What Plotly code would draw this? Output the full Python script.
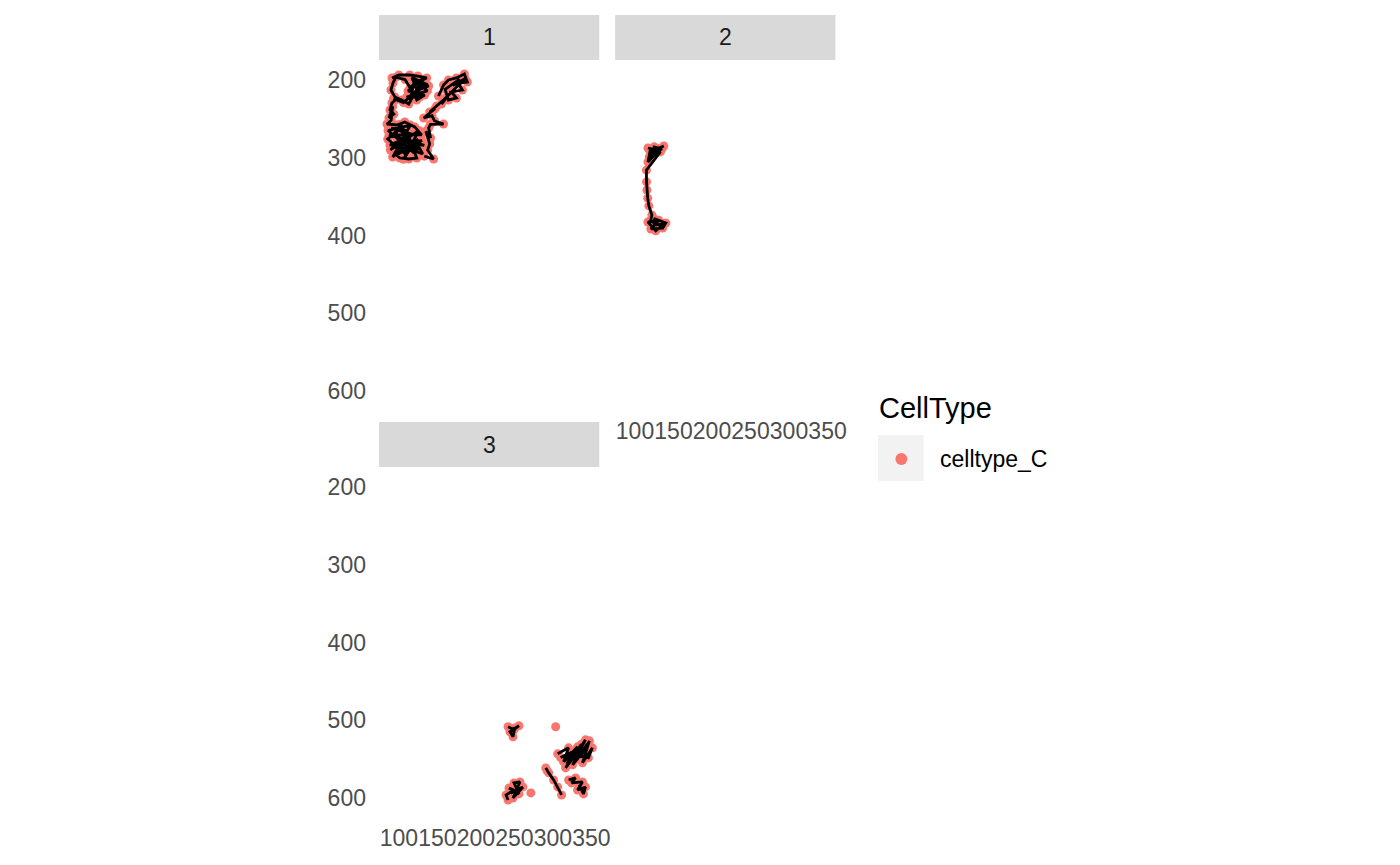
import plotly.graph_objects as go

W, H = 1400, 865

# ---------------- data ----------------
panel_labels = ["1", "2", "3"]
legend_title = "CellType"
cell_type = "celltype_C"
x_ticks = [100, 150, 200, 250, 300, 350]
y_ticks = [200, 300, 400, 500, 600]
x_range = [74.2, 360.2]
y_range = [620.6, 174.3]

panel1_x = [91.0, 100.0, 114.2, 124.5, 136.1, 118.0, 128.0, 138.7, 125.0, 112.0,
            133.5, 123.2, 115.0, 130.0, 112.9, 103.9, 94.8, 89.7, 92.3, 96.0,
            108.0, 120.0, 135.0, 117.0, 127.0, 110.0, 137.0, 121.0, 114.0, 131.0,
            106.0, 93.0,
            95.0, 91.0, 88.4, 93.5, 87.1, 92.0, 90.0, 84.5, 97.4, 107.7,
            120.6, 129.6, 102.6, 87.1, 112.9, 133.0, 97.4, 88.4, 105.2, 123.2,
            131.0, 116.8, 93.6, 101.3, 112.9, 123.2, 110.0, 90.0, 118.0, 95.0,
            127.0, 100.0, 85.5, 108.0, 125.0, 92.0, 115.0, 86.0, 120.0, 104.0,
            130.0, 98.0, 112.0, 89.0, 126.0, 106.0, 118.0, 95.0, 102.0, 124.0,
            151.5, 158.0, 164.4, 174.7, 185.0, 188.9, 177.0, 182.5, 168.3, 174.7,
            164.4, 160.0, 179.0, 170.0, 186.0, 165.0, 155.4, 162.0, 149.0, 140.0,
            147.0, 132.2, 143.0, 146.4, 158.0, 141.0, 138.7, 141.2, 135.0, 140.0,
            137.4, 145.1, 133.0]
panel1_y = [197.4, 193.6, 193.6, 194.9, 197.4, 206.0, 212.0, 207.7, 203.0, 214.0,
            219.3, 225.7, 209.0, 199.0, 230.9, 225.7, 221.9, 212.9, 203.9, 196.5,
            199.5, 219.0, 205.0, 197.0, 222.0, 222.0, 214.0, 200.0, 226.0, 207.0,
            229.0, 224.0,
            226.0, 229.6, 238.6, 244.0, 248.9, 234.0, 252.0, 256.6, 257.9, 254.0,
            260.4, 270.7, 270.7, 270.7, 277.2, 284.0, 279.7, 283.6, 287.5, 281.0,
            295.2, 290.0, 293.9, 300.3, 301.6, 300.3, 265.0, 262.0, 270.0, 288.0,
            289.0, 263.0, 276.0, 295.0, 276.0, 299.0, 258.0, 265.0, 294.0, 280.0,
            278.0, 296.0, 268.0, 290.0, 265.0, 302.0, 284.0, 272.0, 257.0, 293.0,
            220.6, 206.4, 200.0, 197.4, 192.3, 202.6, 204.0, 212.9, 215.4, 223.2,
            225.7, 212.0, 199.0, 207.0, 198.0, 219.0, 230.9, 222.0, 233.4, 241.2,
            237.0, 248.9, 246.0, 252.7, 256.6, 257.0, 261.7, 274.6, 266.0, 282.0,
            290.0, 301.6, 298.0]
panel1_track = ["a"] * 32 + ["b"] * 50 + ["c"] * 33

panel2_x = [116.8, 127.0, 137.4, 130.0, 121.0, 125.0, 135.0, 118.5, 128.5, 116.8,
            119.5, 133.0, 114.8, 115.0, 115.5, 116.5, 118.0, 121.9, 120.6, 127.0,
            137.4, 127.0, 116.8, 131.0, 120.6, 136.0, 140.0, 124.0]
panel2_y = [287.5, 290.0, 284.9, 288.0, 296.0, 286.0, 288.5, 299.0, 293.0, 305.5,
            292.0, 292.5, 316.0, 331.0, 341.5, 352.0, 362.0, 373.6, 380.0, 386.5,
            385.0, 394.0, 382.6, 380.5, 391.6, 390.5, 384.0, 378.0]
panel2_track = ["d"] * 28

panel3_x = [241.8, 249.5, 255.9, 244.3, 248.2, 250.5, 246.0,
            303.6,
            306.2, 320.4, 313.9, 332.0, 316.5, 329.4, 342.3, 325.5, 339.7, 347.4,
            338.4, 351.3, 346.1, 335.0, 322.0, 344.0, 310.0, 327.0, 318.0, 337.0,
            332.0, 345.0, 341.0, 324.0,
            290.7, 292.5, 294.6, 301.0, 306.2, 311.3,
            320.4, 329.4, 324.2, 338.4, 332.0, 342.3, 339.7, 334.0,
            241.8, 239.2, 249.5, 243.0, 255.9, 249.5, 257.2, 248.2, 261.1, 245.0,
            271.4]
panel3_y = [508.4, 512.3, 507.1, 514.8, 521.3, 510.0, 511.0,
            508.4,
            543.2, 535.5, 553.5, 534.2, 561.3, 544.5, 525.2, 557.4, 540.6, 526.5,
            554.8, 535.5, 548.4, 545.0, 550.0, 535.0, 548.0, 540.0, 556.0, 531.0,
            550.0, 530.0, 547.0, 546.0,
            561.3, 565.0, 567.7, 576.8, 585.8, 596.1,
            576.8, 574.2, 580.6, 579.4, 589.7, 585.8, 594.8, 583.0,
            602.6, 596.1, 589.7, 587.1, 594.8, 580.6, 579.4, 600.0, 585.8, 594.0,
            593.5]
panel3_track = (["e"] * 7 + ["f"] + ["g"] * 24 + ["h"] * 6 + ["i"] * 8
                + ["j"] * 10 + ["k"])

# ---------------- style ----------------
POINT = "#F8766D"
FONT = "Liberation Sans, Arial, Helvetica, sans-serif"
TICK_FONT = dict(family=FONT, size=23, color="#4D4D4D")


def px_x(p):
    return p / W


def px_y(p):
    return 1 - p / H


fig = go.Figure()

panels = [
    (panel1_x, panel1_y, panel1_track, "x", "y"),
    (panel2_x, panel2_y, panel2_track, "x2", "y2"),
    (panel3_x, panel3_y, panel3_track, "x3", "y3"),
]
for xs, ys, tracks, xa, ya in panels:
    fig.add_trace(go.Scatter(
        x=xs, y=ys, mode="markers", xaxis=xa, yaxis=ya,
        marker=dict(color=POINT, size=9, line=dict(width=0)),
        showlegend=False, hoverinfo="skip"))
    for t in dict.fromkeys(tracks):
        tx = [x for x, k in zip(xs, tracks) if k == t]
        ty = [y for y, k in zip(ys, tracks) if k == t]
        if len(tx) > 1:
            fig.add_trace(go.Scatter(
                x=tx, y=ty, mode="lines", xaxis=xa, yaxis=ya,
                line=dict(color="black", width=2.8),
                showlegend=False, hoverinfo="skip"))

# panel boxes in pixels: (left, top, right, bottom)
boxes = {
    "1": (382, 60, 604, 407),
    "2": (620, 60, 842, 407),
    "3": (382, 467, 604, 814),
}
STRIP_H = 45

axis_common = dict(showgrid=False, zeroline=False, showline=False, ticks="",
                   tickfont=TICK_FONT)


def xa(box, show):
    return dict(axis_common, domain=[px_x(box[0]), px_x(box[2])], range=x_range,
                tickvals=x_ticks, showticklabels=show, tickangle=0,
                ticklabelstandoff=8)


def ya(box, show):
    return dict(axis_common, domain=[px_y(box[3]), px_y(box[1])], range=y_range,
                tickvals=y_ticks, showticklabels=show, ticklabelstandoff=12)


fig.update_layout(
    xaxis=dict(xa(boxes["1"], False), anchor="y"),
    yaxis=dict(ya(boxes["1"], True), anchor="x"),
    xaxis2=dict(xa(boxes["2"], True), anchor="y2"),
    yaxis2=dict(ya(boxes["2"], False), anchor="x2"),
    xaxis3=dict(xa(boxes["3"], True), anchor="y3"),
    yaxis3=dict(ya(boxes["3"], True), anchor="x3"),
)

shapes = []
annotations = []
for lab, (l, t, r, b) in zip(panel_labels, boxes.values()):
    shapes.append(dict(type="rect", xref="paper", yref="paper",
                       x0=px_x(l), x1=px_x(r), y0=px_y(t), y1=px_y(t - STRIP_H),
                       fillcolor="#D9D9D9", line=dict(width=0), layer="below"))
    annotations.append(dict(text=lab, xref="paper", yref="paper",
                            x=px_x((l + r) / 2), y=px_y(t - STRIP_H / 2),
                            xanchor="center", yanchor="middle", showarrow=False,
                            font=dict(family=FONT, size=23, color="#1A1A1A")))

# legend (drawn manually to match ggplot key)
shapes.append(dict(type="rect", xref="paper", yref="paper",
                   x0=px_x(885), x1=px_x(931), y0=px_y(481), y1=px_y(435),
                   fillcolor="#F2F2F2", line=dict(width=0)))
shapes.append(dict(type="circle", xref="paper", yref="paper",
                   x0=px_x(902.5), x1=px_x(914.5), y0=px_y(465), y1=px_y(453),
                   fillcolor=POINT, line=dict(width=0)))
annotations.append(dict(text=legend_title, xref="paper", yref="paper",
                        x=px_x(884), y=px_y(408), xanchor="left", yanchor="middle",
                        showarrow=False, font=dict(family=FONT, size=29, color="black")))
annotations.append(dict(text=cell_type, xref="paper", yref="paper",
                        x=px_x(945), y=px_y(459), xanchor="left", yanchor="middle",
                        showarrow=False, font=dict(family=FONT, size=23, color="black")))

fig.update_layout(
    width=W, height=H, margin=dict(l=0, r=0, t=0, b=0),
    paper_bgcolor="white", plot_bgcolor="white",
    shapes=shapes, annotations=annotations, showlegend=False,
    font=dict(family=FONT),
)

fig.write_html("out.html")
